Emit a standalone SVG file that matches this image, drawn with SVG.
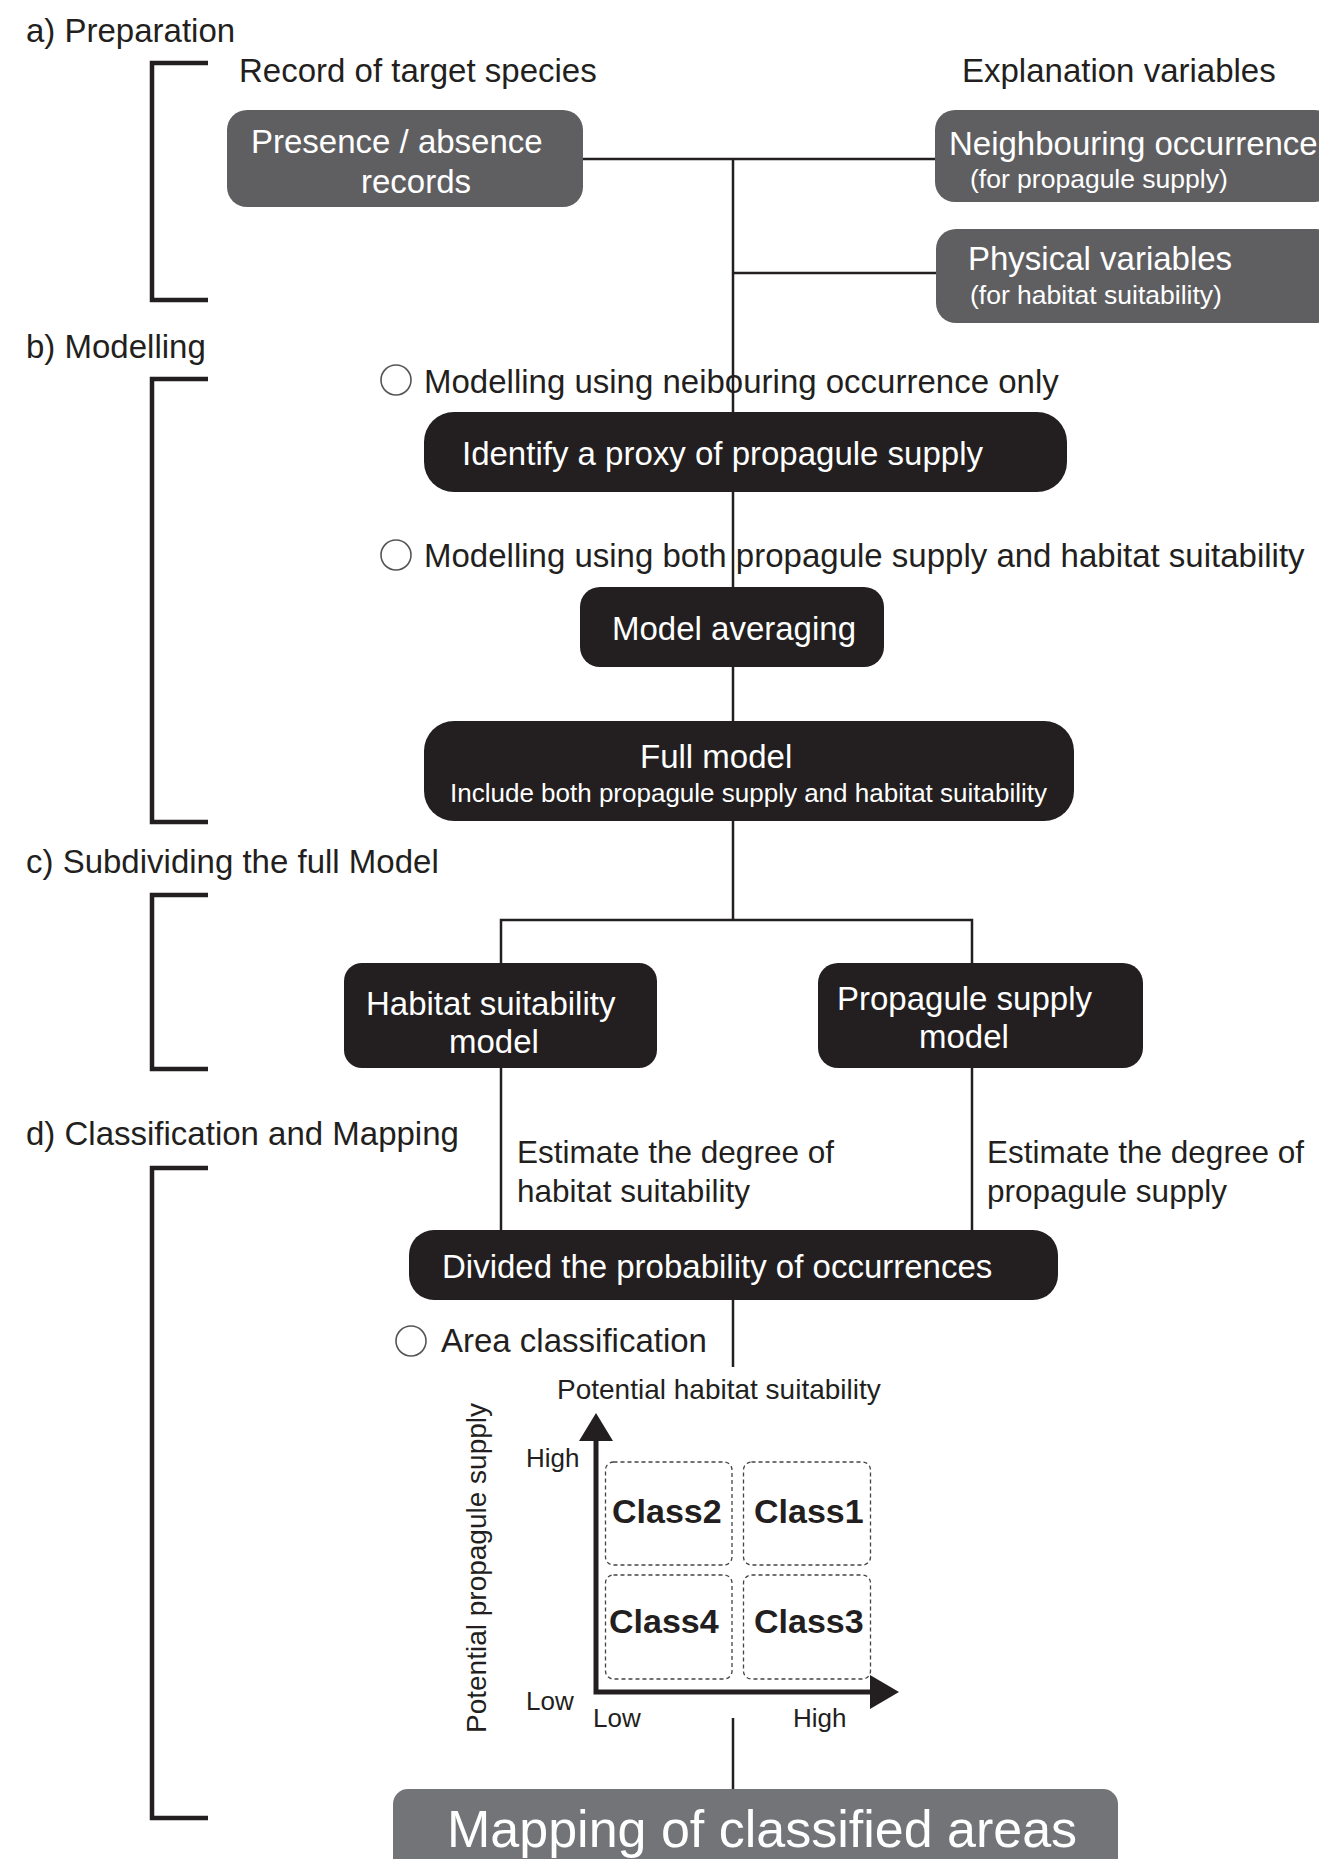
<svg xmlns="http://www.w3.org/2000/svg" width="1319" height="1859" viewBox="0 0 1319 1859">
<defs>
<style>
text{font-family:"Liberation Sans",Arial,sans-serif;fill:#231f20}
.lbl{font-size:33px}
.est{font-size:31.5px}
.w{fill:#ffffff}
.s{font-size:26.5px}
.gray{fill:#5f5f62}
.blk{fill:#231f20}
.map{fill:#737478}
.con{stroke:#231f20;stroke-width:2.5;fill:none}
.brk{stroke:#231f20;stroke-width:4.5;fill:none}
.circ{fill:#fff;stroke:#555;stroke-width:1.6}
.dash{fill:none;stroke:#444;stroke-width:1.3;stroke-dasharray:4 3}
.cls{font-size:34px;font-weight:bold}
.ax{font-size:26px}
.axt{font-size:28px}
</style>
</defs>
<rect width="1319" height="1859" fill="#ffffff"/>

<g id="connectors">
<path class="con" d="M583,159 H935"/>
<path class="con" d="M733,159 V920"/>
<path class="con" d="M733,273 H936"/>
<path class="con" d="M501,963 V920 H972 V963"/>
<path class="con" d="M501,1068 V1230"/>
<path class="con" d="M972,1068 V1230"/>
<path class="con" d="M733,1300 V1367"/>
<path class="con" d="M733,1718 V1789"/>
</g>

<g id="brackets">
<path class="brk" d="M208,63 H152 V300 H208"/>
<path class="brk" d="M208,379 H152 V822 H208"/>
<path class="brk" d="M208,895 H152 V1069 H208"/>
<path class="brk" d="M208,1168 H152 V1818 H208"/>
</g>

<g id="section-labels">
<text class="lbl" x="26" y="42">a) Preparation</text>
<text class="lbl" x="26" y="358">b) Modelling</text>
<text class="lbl" x="26" y="873">c) Subdividing the full Model</text>
<text class="lbl" x="26" y="1145">d) Classification and Mapping</text>
<text class="lbl" x="239" y="82">Record of target species</text>
<text class="lbl" x="962" y="82">Explanation variables</text>
</g>

<g id="node-presence">
<rect class="gray" x="227" y="110" width="356" height="97" rx="20"/>
<text class="lbl w" x="251" y="153">Presence / absence</text>
<text class="lbl w" x="361" y="193">records</text>
</g>

<g id="node-neighbouring">
<rect class="gray" x="935" y="110" width="400" height="92" rx="20"/>
<text class="lbl w" x="949" y="155">Neighbouring occurrence</text>
<text class="s w" x="970" y="188">(for propagule supply)</text>
</g>

<g id="node-physical">
<rect class="gray" x="936" y="229" width="400" height="94" rx="20"/>
<text class="lbl w" x="968" y="270">Physical variables</text>
<text class="s w" x="970" y="304">(for habitat suitability)</text>
</g>

<g id="option-neighbouring">
<circle class="circ" cx="396" cy="380" r="15"/>
<text class="lbl" x="424" y="393">Modelling using neibouring occurrence only</text>
</g>

<g id="node-identify">
<rect class="blk" x="424" y="412" width="643" height="80" rx="30"/>
<text class="lbl w" x="462" y="465">Identify a proxy of propagule supply</text>
</g>

<g id="option-both">
<circle class="circ" cx="396" cy="555" r="15"/>
<text class="lbl" x="424" y="567">Modelling using both propagule supply and habitat suitability</text>
</g>

<g id="node-averaging">
<rect class="blk" x="580" y="587" width="304" height="80" rx="20"/>
<text class="lbl w" x="612" y="640">Model averaging</text>
</g>

<g id="node-full">
<rect class="blk" x="424" y="721" width="650" height="100" rx="30"/>
<text class="lbl w" x="640" y="768">Full model</text>
<text class="w" x="450" y="802" font-size="26">Include both propagule supply and habitat suitability</text>
</g>

<g id="node-habitat">
<rect class="blk" x="344" y="963" width="313" height="105" rx="18"/>
<text class="lbl w" x="366" y="1015">Habitat suitability</text>
<text class="lbl w" x="449" y="1053">model</text>
</g>

<g id="node-propagule">
<rect class="blk" x="818" y="963" width="325" height="105" rx="20"/>
<text class="lbl w" x="837" y="1010">Propagule supply</text>
<text class="lbl w" x="919" y="1048">model</text>
</g>

<g id="estimate-labels">
<text class="est" x="517" y="1163">Estimate the degree of</text>
<text class="est" x="517" y="1202">habitat suitability</text>
<text class="est" x="987" y="1163">Estimate the degree of</text>
<text class="est" x="987" y="1202">propagule supply</text>
</g>

<g id="node-divided">
<rect class="blk" x="409" y="1230" width="649" height="70" rx="25"/>
<text class="lbl w" x="442" y="1278">Divided the probability of occurrences</text>
</g>

<g id="area-classification">
<circle class="circ" cx="411" cy="1341" r="15"/>
<text class="lbl" x="441" y="1352">Area classification</text>
</g>

<g id="chart">
<text class="axt" x="557" y="1399">Potential habitat suitability</text>
<text class="axt" transform="translate(486,1733) rotate(-90)">Potential propagule supply</text>
<path d="M596,1437 V1692 H872" stroke="#231f20" stroke-width="5" fill="none"/>
<polygon points="596,1413 579,1441 613,1441" fill="#231f20"/>
<polygon points="899,1692 870,1675 870,1709" fill="#231f20"/>
<rect class="dash" x="605.5" y="1462" width="126.5" height="103" rx="8"/>
<rect class="dash" x="743.5" y="1462" width="127" height="103" rx="8"/>
<rect class="dash" x="605.5" y="1575" width="126.5" height="104" rx="8"/>
<rect class="dash" x="743.5" y="1575" width="127" height="104" rx="8"/>
<text class="cls" x="612" y="1523">Class2</text>
<text class="cls" x="754" y="1523">Class1</text>
<text class="cls" x="609" y="1633">Class4</text>
<text class="cls" x="754" y="1633">Class3</text>
<text class="ax" x="526" y="1467">High</text>
<text class="ax" x="526" y="1710">Low</text>
<text class="ax" x="593" y="1727">Low</text>
<text class="ax" x="793" y="1727">High</text>
</g>

<g id="node-mapping">
<rect class="map" x="393" y="1789" width="725" height="100" rx="15"/>
<text class="w" x="447" y="1847" font-size="52">Mapping of classified areas</text>
</g>
</svg>
